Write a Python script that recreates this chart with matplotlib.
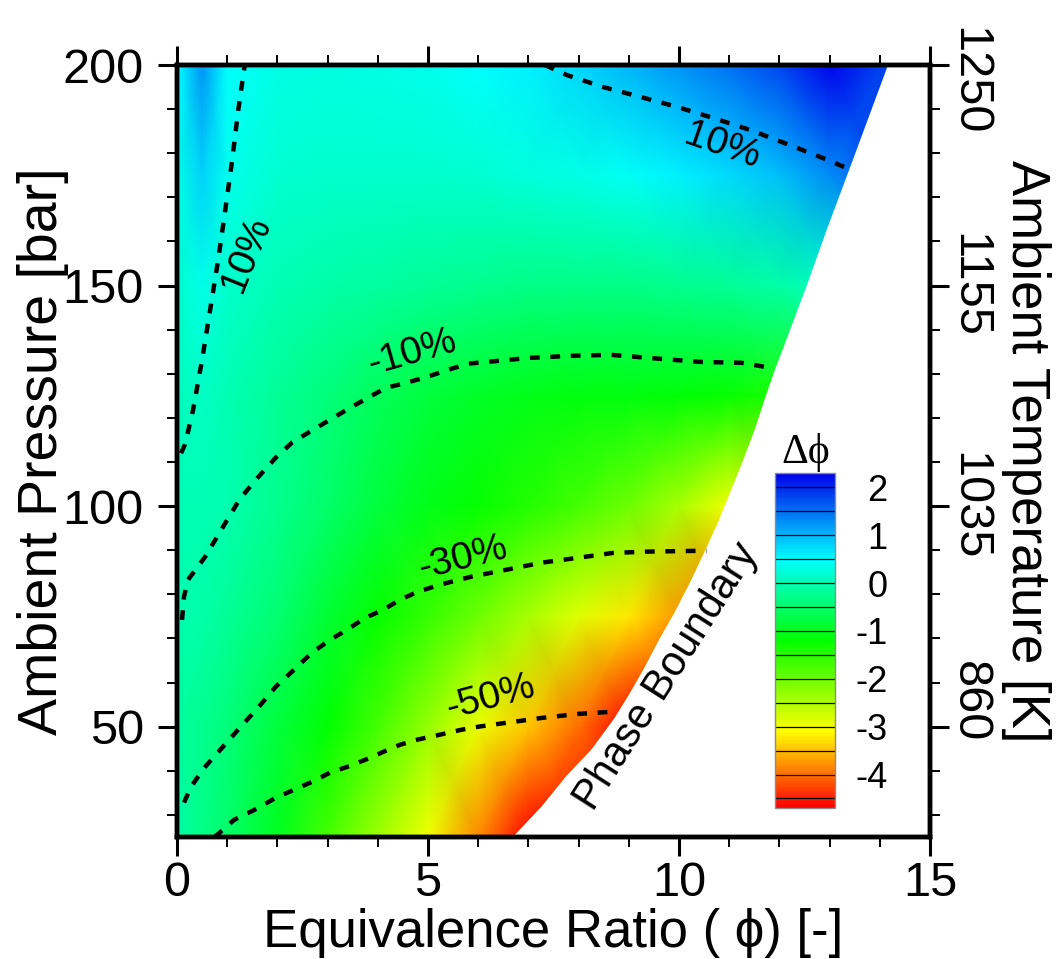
import numpy as np
import matplotlib.pyplot as plt
import matplotlib.transforms as mtransforms
from matplotlib.colors import LinearSegmentedColormap
from matplotlib.ticker import MultipleLocator

plt.rcParams['font.family'] = ['Liberation Sans', 'DejaVu Sans']
plt.rcParams['axes.unicode_minus'] = False

# Grid of delta-phi values (rows = pressure, cols = phi)
phi_nodes = [0, 0.5, 1, 2, 3, 4, 5, 6, 7, 8, 9, 10, 11, 12, 13, 14, 15]
p_nodes = [25, 50, 75, 100, 125, 150, 175, 200]
dphi = [
    [-0.10, -0.30, -0.50, -1.00, -1.70, -2.35, -3.00, -3.85, -5.00, -6.0, -6.0, -6.0, -6.0, -6.0, -6.0, -6.0, -6.0],
    [-0.15, -0.25, -0.40, -0.80, -1.20, -1.70, -2.30, -2.95, -3.45, -4.00, -4.70, -5.30, -6.0, -6.0, -6.0, -6.0, -6.0],
    [-0.05, -0.10, -0.20, -0.45, -0.85, -1.25, -1.60, -2.00, -2.45, -2.85, -3.25, -3.75, -4.40, -5.0, -5.5, -6.0, -6.0],
    [0.00, 0.00, -0.05, -0.25, -0.50, -0.80, -1.05, -1.25, -1.45, -1.70, -2.00, -2.45, -3.00, -3.5, -4.0, -4.5, -5.0],
    [0.05, 0.10, 0.00, -0.20, -0.40, -0.60, -0.80, -0.95, -1.05, -1.10, -1.10, -1.15, -1.25, -1.4, -1.5, -1.6, -1.7],
    [0.15, 0.35, 0.15, 0.00, -0.10, -0.15, -0.20, -0.25, -0.30, -0.30, -0.30, -0.25, -0.20, -0.1, 0.1, 0.3, 0.5],
    [0.32, 0.80, 0.38, 0.18, 0.14, 0.14, 0.15, 0.19, 0.25, 0.33, 0.43, 0.58, 0.75, 0.95, 1.3, 1.7, 1.9],
    [0.50, 1.25, 0.48, 0.33, 0.30, 0.32, 0.37, 0.47, 0.60, 0.78, 1.00, 1.25, 1.50, 1.80, 2.25, 1.85, 1.6],
]

# phase boundary (phi, P)
bound_phi = [6.67, 7.25, 7.75, 8.25, 8.7, 9.0, 9.3, 9.6, 9.9, 10.2, 10.5, 10.75,
             11.0, 11.25, 11.5, 11.7, 11.9, 12.15, 12.55, 12.95, 13.45, 14.15]
bound_p = [25, 32, 39, 45, 52, 57.5, 63.5, 70, 76, 82.6, 89.8, 96,
           103, 110, 117.5, 124.5, 131, 138.5, 150.6, 163.3, 178.5, 200]

# dashed iso-lines (percent change)
c10_left_phi = [0.08, 0.16, 0.32, 0.5, 0.66, 0.82, 0.96, 1.1, 1.22, 1.35]
c10_left_p = [112, 114, 121.8, 133.2, 144.5, 155.8, 167, 178.5, 189.8, 200]
c10_top_phi = [7.33, 7.77, 8.49, 9.22, 9.96, 10.68, 11.41, 12.15, 12.87, 13.33]
c10_top_p = [200, 197.7, 195.0, 192.8, 190.5, 188.0, 185.3, 182.1, 178.9, 176.7]
cm10_phi = [0.1, 0.14, 0.22, 0.56, 0.88, 1.24, 1.57, 1.97, 2.29, 2.71, 3.11, 3.45, 3.84, 4.16,
            4.58, 4.98, 5.40, 5.80, 6.37, 7.01, 7.91, 8.65, 9.62, 10.42, 11.24, 11.85]
cm10_p = [74.2, 79.5, 83.3, 88.5, 94.6, 101.4, 106.0, 111.0, 114.4, 117.3, 120.0, 122.3, 124.8, 126.8,
          128.0, 129.3, 130.9, 132.3, 132.9, 133.6, 134.1, 134.3, 133.4, 132.7, 132.5, 131.3]
cm30_phi = [0.14, 0.28, 0.56, 0.92, 1.27, 1.63, 1.97, 2.33, 2.69, 3.05, 3.39, 3.75, 4.11, 4.44,
            4.80, 5.24, 5.86, 6.57, 7.27, 7.99, 8.69, 9.40, 10.55]
cm30_p = [32.8, 36.4, 40.9, 45.5, 50.0, 54.5, 59.1, 62.9, 66.8, 69.7, 72.0, 74.7, 76.5, 78.8,
          80.6, 82.2, 84.0, 85.6, 87.2, 88.3, 89.4, 89.7, 89.9]
cm50_phi = [0.75, 1.14, 1.55, 1.97, 2.33, 2.69, 3.05, 3.39, 3.75, 4.11, 4.44, 4.80, 5.24, 5.66,
            6.0, 6.57, 7.27, 7.99, 8.67]
cm50_p = [25.0, 28.9, 31.2, 33.9, 35.7, 37.5, 39.6, 40.9, 42.5, 44.3, 45.9, 47.1, 48.2, 49.3,
          50.0, 50.9, 52.0, 52.9, 53.4]

temp_ticks = [50, 100, 150, 200]
temp_labels = ['860', '1035', '1155', '1250']
cbar_ticks = [-4, -3, -2, -1, 0, 1, 2]

# rainbow colour map
vmin, vmax = -4.7, 2.3
cmap_vals = [-4.7, -3.1, -1.2, 0.5, 2.3]
cmap_cols = ['#ff0000', '#ffff00', '#00ff00', '#00ffff', '#0000eb']
cmap = LinearSegmentedColormap.from_list(
    'rainbow_tec', [((v - vmin) / (vmax - vmin), c) for v, c in zip(cmap_vals, cmap_cols)])

fig = plt.figure(figsize=(10.57, 9.59), dpi=100)
ax = fig.add_axes([177 / 1057, 1 - 837 / 959, 753 / 1057, 772 / 959])

X, Y = np.meshgrid(phi_nodes, p_nodes)
mesh = ax.pcolormesh(X, Y, np.array(dphi), shading='gouraud', cmap=cmap,
                     vmin=vmin, vmax=vmax, zorder=1)
ax.fill_betweenx(bound_p, bound_phi, 15, color='white', lw=0, zorder=2)

dash = (0, (2.2, 2.4))
for xs, ys in [(c10_left_phi, c10_left_p), (c10_top_phi, c10_top_p),
               (cm10_phi, cm10_p), (cm30_phi, cm30_p), (cm50_phi, cm50_p)]:
    ax.plot(xs, ys, color='black', lw=3.2, linestyle=dash, zorder=3)

lab_kw = dict(fontsize=28, ha='center', va='center', zorder=4)
ax.text(1.38, 157, '10%', rotation=68, **lab_kw)
ax.text(10.86, 181.6, '10%', rotation=-19, **lab_kw)
ax.text(4.68, 134.7, '-10%', rotation=16, **lab_kw)
ax.text(5.69, 88.1, '-30%', rotation=14, **lab_kw)
ax.text(6.25, 56.6, '-50%', rotation=15, **lab_kw)
ax.text(9.75, 61.5, 'Phase Boundary', fontsize=30, rotation=57.5, ha='center', va='center', zorder=4)

ax.set_xlim(0, 15)
ax.set_ylim(25, 200)
ax.set_xticks([0, 5, 10, 15])
ax.set_yticks([50, 100, 150, 200])
ax.xaxis.set_minor_locator(MultipleLocator(1))
ax.yaxis.set_minor_locator(MultipleLocator(10))
for s in ax.spines.values():
    s.set_linewidth(3.2)
ax.tick_params(which='major', direction='out', length=14, width=2.2, labelsize=35,
               top=True, right=False)
ax.tick_params(which='minor', direction='out', length=7, width=1.4, top=True, right=False)
ax.tick_params(axis='x', which='major', pad=3)
ax.tick_params(axis='y', which='major', pad=10)
ax.set_xlabel('Equivalence Ratio ( \u03d5) [-]', fontsize=38, labelpad=2)
ax.set_ylabel('Ambient Pressure [bar]', fontsize=40, va='center', ha='center')
ax.yaxis.set_label_coords(-0.178, 0.5)

ax2 = ax.twinx()
ax2.set_ylim(25, 200)
ax2.set_yticks(temp_ticks)
ax2.set_yticklabels(temp_labels)
ax2.yaxis.set_minor_locator(MultipleLocator(10))
for s in ax2.spines.values():
    s.set_linewidth(3.2)
ax2.tick_params(which='major', direction='out', length=14, width=2.2, labelsize=35, pad=-2)
ax2.tick_params(axis='y', labelrotation=-90)
ax2.tick_params(which='minor', direction='out', length=7, width=1.4)
# the end labels sit a little inside their ticks in the original
shifts = {'860': 0.25, '1250': -0.16}
for lab in ax2.get_yticklabels():
    lab.set_verticalalignment('center')
    dy = shifts.get(lab.get_text(), 0)
    if dy:
        lab.set_transform(lab.get_transform() +
                          mtransforms.ScaledTranslation(0, dy, fig.dpi_scale_trans))
ax2.set_ylabel('Ambient Temperature [K]', fontsize=38, rotation=270, va='center', ha='center')
ax2.yaxis.set_label_coords(1.127, 0.5)

# inset colour bar
cax = fig.add_axes([775 / 1057, 1 - 808 / 959, 60 / 1057, 335 / 959])
cb = fig.colorbar(mesh, cax=cax, ticks=cbar_ticks)
cb.outline.set_edgecolor('0.55')
cb.outline.set_linewidth(1)
for v in np.arange(-4.5, 2.01, 0.5):
    cax.axhline(v, color='black', lw=0.9)
cax.tick_params(length=0, labelsize=26, pad=38)
for lab in cax.get_yticklabels():
    lab.set_horizontalalignment('right')
fig.text(806 / 1057, 1 - 453 / 959, '\u0394\u03d5', fontsize=30, ha='center', va='center',
         family=['Liberation Serif', 'DejaVu Serif'])

fig.savefig('out.png', dpi=100)
